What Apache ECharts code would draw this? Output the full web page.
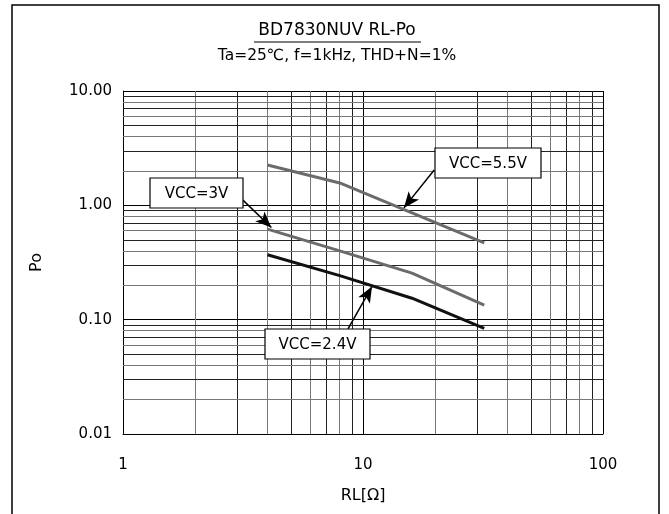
<!DOCTYPE html>
<html><head><meta charset="utf-8">
<script src="https://cdn.jsdelivr.net/npm/echarts@6/dist/echarts.min.js"></script>
<style>html,body{margin:0;padding:0;background:#fff}#c{width:669px;height:514px}</style>
</head><body><div id="c"></div>
<script>
const FONT = '"DejaVu Sans", "Noto Sans CJK JP", sans-serif';
// Data
const rl = [4, 8, 16, 32];
const vcc55 = [2.25, 1.57, 0.86, 0.47];
const vcc30 = [0.62, 0.40, 0.255, 0.134];
const vcc24 = [0.37, 0.243, 0.154, 0.084];
const xMinorGrid = [2,3,4,5,6,7,8,9,20,30,40,50,60,70,80,90];
const yMinorGrid = [0.02,0.03,0.04,0.05,0.06,0.07,0.08,0.09,0.2,0.3,0.4,0.5,0.6,0.7,0.8,0.9,2,3,4,5,6,7,8,9];
// arrows: [from, to] in data coords
const arrow55 = [[19.8, 2.04], [14.8, 0.95]];
const arrow30 = [[3.16, 1.11], [4.15, 0.64]];
const arrow24 = [[8.66, 0.083], [10.9, 0.195]];

const chart = echarts.init(document.getElementById('c'));
const lineStyleMinor = (i) => ({color: i % 2 ? '#222' : '#777', width: 1, type: 'solid'});
const gridLines = [];
xMinorGrid.forEach((v,i) => gridLines.push({xAxis: v, lineStyle: lineStyleMinor(i)}));
yMinorGrid.forEach((v,i) => gridLines.push({yAxis: v, lineStyle: lineStyleMinor(i)}));

function arrowLine(a){
  return [{coord: a[0]}, {coord: a[1]}];
}

function mkSeries(name, vals, color){
  return {
    name, type: 'line', data: rl.map((x,i)=>[x, vals[i]]),
    showSymbol: false, symbol: 'none', smooth: false,
    lineStyle: {color, width: 3}, z: 5, animation: false
  };
}

function box(x, y, w, h, text){
  return [
    {type: 'rect', z: 50, shape: {x, y, width: w, height: h}, style: {fill: '#fff', stroke: '#000', lineWidth: 1.2}, silent: true},
    {type: 'text', z: 51, x: x + w/2, y: y + h/2 + 1, style: {text, font: '15px ' + FONT, fill: '#000', align: 'center', verticalAlign: 'middle'}, silent: true}
  ];
}

chart.setOption({
  animation: false,
  backgroundColor: '#fff',
  grid: {left: 123, right: 66, top: 91, bottom: 80, containLabel: false},
  xAxis: {
    type: 'log', logBase: 10, min: 1, max: 100,
    name: 'RL[Ω]', nameLocation: 'middle', nameGap: 54,
    nameTextStyle: {fontFamily: FONT, fontSize: 16, color: '#000'},
    axisLine: {lineStyle: {color: '#000', width: 1}},
    axisTick: {show: false},
    axisLabel: {fontFamily: FONT, fontSize: 15, color: '#000', margin: 24, formatter: v => String(v)},
    splitLine: {show: true, lineStyle: {color: '#000', width: 1}}
  },
  yAxis: {
    type: 'log', logBase: 10, min: 0.01, max: 10,
    name: 'Po', nameLocation: 'middle', nameGap: 78, nameRotate: 90,
    nameTextStyle: {fontFamily: FONT, fontSize: 16, color: '#000'},
    axisLine: {show: true, lineStyle: {color: '#000', width: 1}},
    axisTick: {show: false},
    axisLabel: {fontFamily: FONT, fontSize: 15, color: '#000', margin: 11, formatter: v => Number(v).toFixed(2)},
    splitLine: {show: true, lineStyle: {color: '#000', width: 1}}
  },
  series: [
    {
      type: 'line', data: [], silent: true,
      markLine: {silent: true, symbol: ['none','none'], label: {show: false}, animation: false, data: gridLines}
    },
    mkSeries('VCC=5.5V', vcc55, '#6b6b6b'),
    mkSeries('VCC=3V', vcc30, '#6b6b6b'),
    mkSeries('VCC=2.4V', vcc24, '#111'),
    {
      type: 'line', data: [], silent: true, z: 10,
      markLine: {
        silent: true, symbol: ['none','arrow'], symbolSize: [10, 16], label: {show: false}, animation: false,
        lineStyle: {color: '#000', width: 1.5, type: 'solid'},
        data: [arrowLine(arrow55), arrowLine(arrow30), arrowLine(arrow24)]
      }
    }
  ],
  graphic: [
    {type: 'rect', shape: {x: 12, y: 5, width: 647, height: 530}, style: {fill: 'none', stroke: '#000', lineWidth: 1.5}, z: 0, silent: true},
    {type: 'text', x: 337, y: 31, style: {text: 'BD7830NUV RL-Po', font: '17px ' + FONT, fill: '#000', align: 'center', verticalAlign: 'middle'}},
    {type: 'line', shape: {x1: 254, y1: 42, x2: 421, y2: 42}, style: {stroke: '#000', lineWidth: 1.2}},
    {type: 'text', x: 337, y: 56, style: {text: 'Ta=25℃, f=1kHz, THD+N=1%', font: '15.5px ' + FONT, fill: '#000', align: 'center', verticalAlign: 'middle'}},
    ...box(435, 148, 106, 30, 'VCC=5.5V'),
    ...box(150, 178, 93, 30, 'VCC=3V'),
    ...box(265, 329, 105, 30, 'VCC=2.4V')
  ]
});
</script></body></html>
